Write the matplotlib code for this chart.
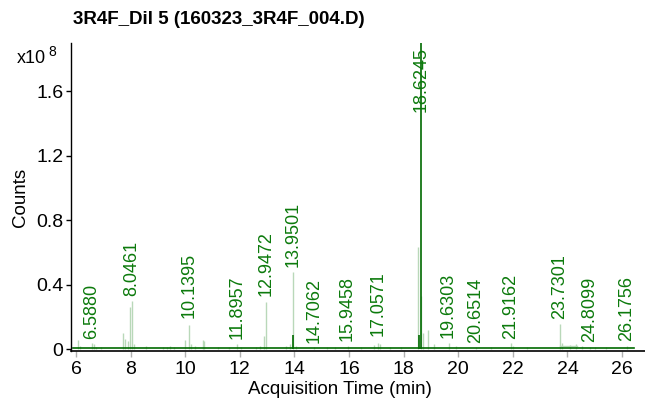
import matplotlib
matplotlib.use("Agg")
import matplotlib.pyplot as plt

plt.rcParams["font.family"] = ["Liberation Sans", "DejaVu Sans"]

title = "3R4F_Dil 5 (160323_3R4F_004.D)"

# light trace: small peaks (retention time in min, height in 1e8 counts)
light_rt = [6.07, 6.15, 6.58, 6.66, 6.75, 6.90, 7.72, 7.78, 7.90, 7.98, 8.05, 8.12,
            8.55, 9.20, 9.35, 9.45, 9.60, 10.00, 10.14, 10.20, 10.35, 10.65, 10.70,
            11.20, 11.60, 11.90, 12.05, 12.60, 12.75, 12.88, 12.95, 13.70, 13.85,
            13.95, 14.05, 14.70, 15.20, 15.50, 15.95, 16.45, 16.90, 17.05, 17.15,
            17.50, 17.90, 18.52, 18.64, 18.72, 18.90, 19.10, 19.65, 19.90, 20.65,
            21.20, 21.92, 22.00, 22.50, 23.73, 23.80, 24.10, 24.30, 24.55, 24.81,
            25.00, 25.40, 26.18]
light_h = [0.055, 0.020, 0.035, 0.030, 0.015, 0.010, 0.100, 0.060, 0.050, 0.260, 0.300, 0.030,
           0.020, 0.010, 0.015, 0.020, 0.010, 0.055, 0.150, 0.030, 0.020, 0.055, 0.050,
           0.010, 0.015, 0.030, 0.010, 0.015, 0.020, 0.080, 0.290, 0.020, 0.030,
           0.480, 0.020, 0.010, 0.010, 0.010, 0.020, 0.015, 0.025, 0.040, 0.030,
           0.015, 0.015, 0.630, 0.330, 0.100, 0.120, 0.030, 0.040, 0.020, 0.010,
           0.010, 0.035, 0.020, 0.010, 0.155, 0.040, 0.025, 0.030, 0.020, 0.015,
           0.010, 0.010, 0.020]
light_plateau_rt = [23.74, 24.35]
light_plateau_h = [0.022, 0.022]

# dark trace: baseline plus spikes
dark_base_rt = [5.90, 26.45]
dark_base_h = [0.006, 0.006]
dark_rt = [13.95, 18.55, 18.6245]
dark_h = [0.085, 0.090, 2.50]

# labelled peaks
label_rt = [6.5880, 8.0461, 10.1395, 11.8957, 12.9472, 13.9501, 14.7062, 15.9458,
            17.0571, 18.6245, 19.6303, 20.6514, 21.9162, 23.7301, 24.8099, 26.1756]
label_apex = [0.035, 0.30, 0.16, 0.03, 0.30, 0.48, 0.01, 0.02,
              0.05, 2.50, 0.04, 0.01, 0.03, 0.155, 0.015, 0.02]

x_ticks = [6, 8, 10, 12, 14, 16, 18, 20, 22, 24, 26]
y_ticks = [0, 0.4, 0.8, 1.2, 1.6]
y_ticklabels = ["0", "0.4", "0.8", "1.2", "1.6"]

light_color = "#b9d8b9"
dark_color = "#006a00"
label_color = "#0c7a0c"

fig = plt.figure(figsize=(6.45, 4.04), dpi=100)
ax = fig.add_axes([71 / 645, 1 - 351 / 404, 1 - 71 / 645, (351 - 43) / 404])
ymax = 1.898
ax.set_xlim(5.817, 26.84)
ax.set_ylim(-0.012, ymax)

ax.vlines(light_rt, 0, light_h, color=light_color, lw=1.0)
ax.plot(light_plateau_rt, light_plateau_h, color=light_color, lw=1.0)
ax.plot(dark_base_rt, dark_base_h, color=dark_color, lw=1.2)
ax.vlines(dark_rt, 0, dark_h, color=dark_color, lw=1.2)

for rt, apex in zip(label_rt, label_apex):
    txt = f"{rt:.4f}"
    if apex >= ymax:
        ax.annotate(txt, (rt, ymax), xytext=(0, -3), textcoords="offset points",
                    rotation=90, ha="center", va="top", color=label_color, fontsize=13)
    else:
        ax.annotate(txt, (rt, apex), xytext=(0, 3.5), textcoords="offset points",
                    rotation=90, ha="center", va="bottom", color=label_color, fontsize=13)

ax.spines["top"].set_visible(False)
ax.spines["right"].set_visible(False)
ax.spines["left"].set_linewidth(1.0)
ax.spines["bottom"].set_linewidth(1.2)
ax.set_xticks(x_ticks)
ax.set_yticks(y_ticks)
ax.set_yticklabels(y_ticklabels)
ax.tick_params(axis="x", length=4, width=1, color="#b0b0b0", pad=3, labelsize=14)
ax.tick_params(axis="y", length=3.6, width=1, color="black", pad=2, labelsize=14)

fig.text(73 / 645, 1 - 20 / 404, title, fontsize=13.5, fontweight="bold", va="center", ha="left")
fig.text(17 / 645, 1 - 63 / 404, "x10", fontsize=13, va="baseline", ha="left")
fig.text(48 / 645, 1 - 56 / 404, "8", fontsize=10, va="baseline", ha="left")
fig.text(20 / 645, 1 - 197 / 404, "Counts", fontsize=13.5, rotation=90, va="center", ha="center")
fig.text(340 / 645, 1 - 390 / 404, "Acquisition Time (min)", fontsize=13.5, va="center", ha="center")

fig.savefig("out.png", dpi=100)
